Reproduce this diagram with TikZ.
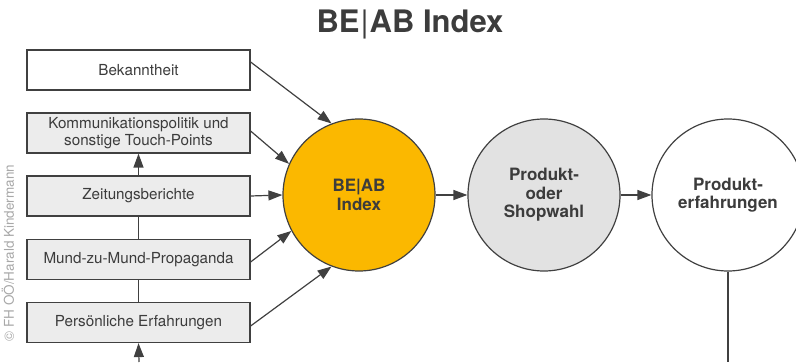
\documentclass[tikz,border=0pt]{standalone}
\usepackage{fontspec}
\setmainfont{TeX Gyre Heros}
\usetikzlibrary{arrows.meta}
\definecolor{ink}{HTML}{3C3C3C}
\definecolor{edge}{HTML}{404040}
\definecolor{boxgray}{HTML}{ECECEC}
\definecolor{circgray}{HTML}{E2E2E2}
\definecolor{beabyellow}{HTML}{FBB800}
\definecolor{credit}{HTML}{A8A8A8}
\tikzset{
  inbox/.style={draw=edge, line width=1.2pt, fill=boxgray, minimum width=223pt,
    minimum height=40pt, inner sep=0pt, align=center, text=ink,
    font=\fontsize{15.2}{16.5}\selectfont},
  stage/.style={circle, draw=edge, line width=1.2pt, minimum size=152pt,
    inner sep=0pt, align=center, text=ink,
    font=\bfseries\fontsize{17}{18.5}\selectfont},
  conn/.style={draw=edge, line width=1.2pt},
  arr/.style={conn, -{Triangle[length=14pt,width=10pt]}},
}
\begin{document}
\begin{tikzpicture}[x=1pt,y=1pt]
  \useasboundingbox (0,0) rectangle (796,362);

  % heading
  \node[text=ink, font=\bfseries\fontsize{31}{34}\selectfont] (title) at (410,338)
    {BE\kern1pt{\fontseries{m}\selectfont|}\kern1pt AB Index};

  % rotated credit line
  \node[rotate=90, text=credit, font=\fontsize{13.5}{14}\selectfont] (credit) at (8,109)
    {\textcopyright{} FH OÖ/Harald Kindermann};

  % influence boxes
  \node[inbox, fill=white] (bek) at (138.5,292) {Bekanntheit};
  \node[inbox] (kom) at (138.5,229) {Kommunikationspolitik und\\[0pt]sonstige Touch-Points};
  \node[inbox] (zei) at (138.5,166) {Zeitungsberichte};
  \node[inbox] (mund) at (138.5,102.5) {Mund-zu-Mund-Propaganda};
  \node[inbox] (pers) at (138.5,39.5) {Persönliche Erfahrungen};

  % stage circles
  \node[stage, fill=beabyellow] (beab) at (359,167) {BE|AB\\Index};
  \node[stage, fill=circgray] (wahl) at (544,167) {Produkt-\\oder\\Shopwahl};
  \node[stage, fill=white] (erf) at (728,167) {Produkt-\\erfahrungen};

  % feedback chain along the boxes
  \coordinate (feedin) at (139,0);
  \coordinate (feedout) at (728,0);
  \draw[arr] (feedin) -- (pers.south);
  \draw[conn] (pers.north) -- (mund.south);
  \draw[conn] (mund.north) -- (zei.south);
  \draw[arr] (zei.north) -- (kom.south);
  \draw[conn] (erf.south) -- (feedout);

  % inputs into the index
  \draw[arr] (bek.east) ++(0,8) -- (beab.111);
  \draw[arr] (kom.east) ++(0,2) -- (beab.156);
  \draw[arr] (zei.east) -- (beab.west);
  \draw[arr] (mund.east) ++(0,-2.5) -- (beab.208);
  \draw[arr] (pers.east) ++(0,-3.5) -- (beab.249);

  % main flow
  \draw[arr] (beab.east) -- (wahl.west);
  \draw[arr] (wahl.east) -- (erf.west);
\end{tikzpicture}
\end{document}
